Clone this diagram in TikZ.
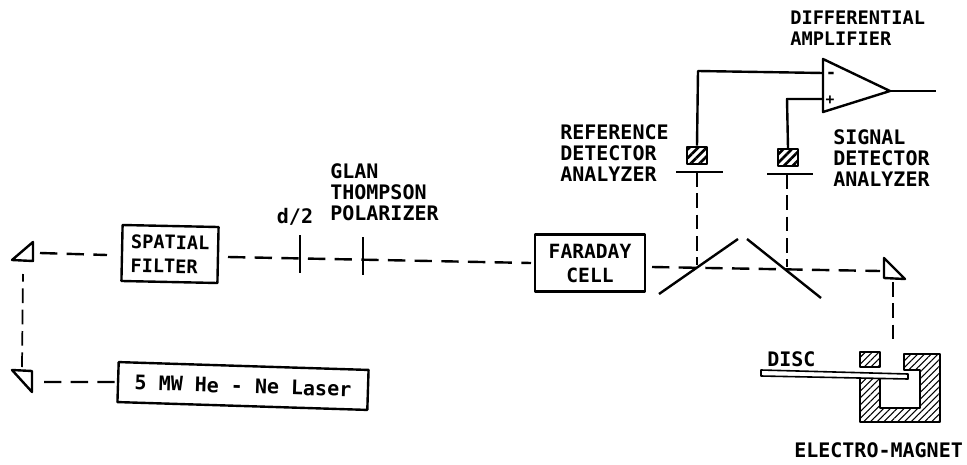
\documentclass[tikz,border=0pt]{standalone}
\usepackage{fontspec}
\setmainfont{DejaVu Sans Mono}
\usetikzlibrary{patterns.meta}
\tikzset{
  x=0.75pt,y=-0.75pt,
  ink/.style={line width=1.8pt,black,line join=round},
  beam/.style={line width=1.8pt,black,dash pattern=on 13pt off 7pt},
  beamv/.style={line width=1.3pt,black,dash pattern=on 11pt off 5pt},
  plate/.style={line width=1.3pt,black},
  hatched/.style={ink,pattern={Lines[angle=45,distance=3.6pt,line width=0.8pt]}},
  dethatch/.style={ink,pattern={Lines[angle=45,distance=4.6pt,line width=2pt]},minimum width=15pt,minimum height=12.75pt,inner sep=0pt},
  lbl/.style={font=\fontsize{15}{15.8}\selectfont\bfseries,align=left,inner sep=0pt,text=black},
  boxed/.style={draw,ink,inner sep=0pt,font=\fontsize{14}{18}\selectfont\bfseries},
}
\begin{document}
\begin{tikzpicture}
\useasboundingbox (0,0) rectangle (967,464);
% boxes
\node[boxed,align=left,minimum width=72pt,minimum height=42pt,rotate=-1.2] (filter) at (170,254) {SPATIAL\\FILTER};
\node[boxed,minimum width=187.5pt,minimum height=30pt,rotate=-1.8,font=\fontsize{15}{18}\selectfont\bfseries] (laser) at (243,386) {5 MW He - Ne Laser};
\node[boxed,align=center,minimum width=82.5pt,minimum height=43pt,font=\fontsize{14.7}{18}\selectfont\bfseries] (faraday) at (590,263) {FARADAY\\CELL};
% prisms
\draw[ink] (12,260) -- (33,242) -- (33,261) -- cycle;
\draw[ink] (12,370) -- (32,371) -- (32,392) -- cycle;
\draw[ink] (884,258) -- (884,278) -- (905,279) -- cycle;
\coordinate (p1) at (40,253);
\coordinate (p1d) at (23,274);
\coordinate (p2u) at (22,367);
\coordinate (p2) at (44,382);
\coordinate (p3) at (880,271);
\coordinate (p3d) at (893,282);
\coordinate (magtop) at (893,344);
\coordinate (fe) at (228,257);
\coordinate (fw) at (531,263);
\coordinate (fo) at (652,267);
% plates
\draw[plate] (300,235) -- (300,273);
\draw[plate] (363,237) -- (363,275);
% beam
\draw[beam] (p2) -- (laser.west);
\draw[beamv] (p2u) -- (p1d);
\draw[beam] (p1) -- (107,255);
\draw[beam] (fe) -- (fw);
\draw[beam] (fo) -- (p3);
\draw[beamv] (p3d) -- (magtop);
% beam splitters
\draw[ink] (659,294) -- (738,239);
\draw[ink] (747,239) -- (821,298);
% analyzers and detectors
\draw[ink] (676,172) -- (723,172);
\draw[ink] (767,174) -- (813,174);
\node[draw,dethatch] (refd) at (697,155.5) {};
\node[draw,dethatch] (sigd) at (788,157.5) {};
\draw[beamv] (697,172) -- (697,265);
\draw[beamv] (787,174) -- (787,267);
% amplifier
\draw[ink] (823,59) -- (890,91) -- (823,112) -- cycle;
\coordinate (ampm) at (823,73);
\coordinate (ampp) at (823,99);
\coordinate (ampo) at (890,91);
\coordinate (ampend) at (936,91);
\draw[ink] (refd.north) -- (698,71) -- (ampm);
\draw[ink] (sigd.north) -- (787,99) -- (ampp);
\draw[ink] (ampo) -- (ampend);
\node[font=\fontsize{13}{13}\selectfont\bfseries,inner sep=0pt] (minus) at (831,75) {-};
\node[font=\fontsize{11}{11}\selectfont\bfseries,inner sep=0pt] (plus) at (830,100) {+};
% magnet
\draw[hatched] (860,352) rectangle (880,367);
\draw[hatched] (904,354) -- (940,354) -- (940,422) -- (860,422) -- (860,377) -- (880,377) -- (880,408) -- (920,408) -- (920,370) -- (904,370) -- cycle;
\draw[ink,fill=white,line width=1.2pt] (761,370) -- (908,374) -- (908,379) -- (761,376) -- cycle;
% labels
\node[lbl,anchor=north west,font=\fontsize{14}{15.8}\selectfont\bfseries] (l1) at (790,11) {DIFFERENTIAL\\AMPLIFIER};
\node[lbl,anchor=north west] (l2) at (833,129) {SIGNAL\\DETECTOR\\ANALYZER};
\node[lbl,anchor=north west] (l3) at (560,124) {REFERENCE\\DETECTOR\\ANALYZER};
\node[lbl,anchor=north west] (l4) at (330,163) {GLAN\\THOMPSON\\POLARIZER};
\node[lbl,anchor=center] (l5) at (295,217) {d/2};
\node[lbl,anchor=north west] (l6) at (767,351) {DISC};
\node[lbl,anchor=north west] (l7) at (794,442) {ELECTRO-MAGNET};
\end{tikzpicture}
\end{document}
